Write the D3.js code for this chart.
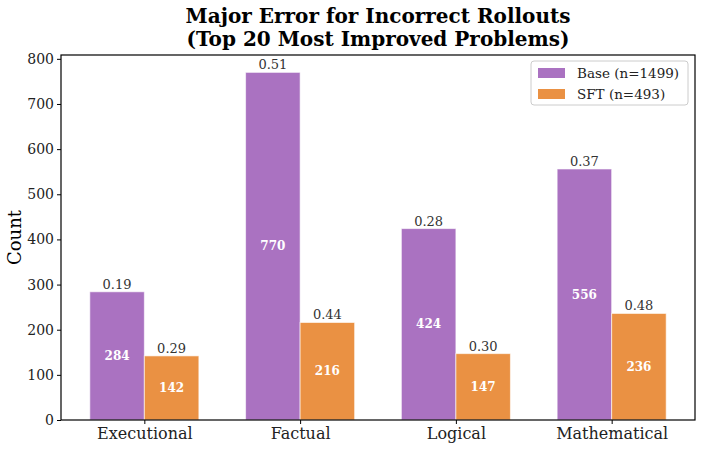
<!DOCTYPE html>
<html>
<head>
<meta charset="utf-8">
<script src="https://cdn.jsdelivr.net/npm/d3@7"></script>
<style>
  body { margin: 0; background: #fff; }
  svg text { font-family: "DejaVu Serif", serif; }
</style>
</head>
<body>
<svg id="chart" width="702" height="450"></svg>
<script>
// Data
const categories = ['Executional', 'Factual', 'Logical', 'Mathematical'];
const baseCounts = [284, 770, 424, 556];
const sftCounts = [142, 216, 147, 236];
const baseRates = ['0.19', '0.51', '0.28', '0.37'];
const sftRates = ['0.29', '0.44', '0.30', '0.48'];
const seriesNames = ['Base (n=1499)', 'SFT (n=493)'];
const yTicks = [0, 100, 200, 300, 400, 500, 600, 700, 800];

const COLORS = ['#aa72c1', '#ea9143'];
const M = { left: 61, right: 695, top: 55, bottom: 420 };
const BAR = 0.35;

const svg = d3.select('#chart');

// Scales (matplotlib-like limits with 5% margins)
const x = d3.scaleLinear([-0.535, 3.535], [M.left, M.right]);
const y = d3.scaleLinear([0, 808.5], [M.bottom, M.top]);

// Title
const title = svg.append('text')
  .attr('x', (M.left + M.right) / 2)
  .attr('text-anchor', 'middle')
  .style('font-size', '20px')
  .style('font-weight', 'bold');
title.append('tspan').attr('x', (M.left + M.right) / 2).attr('y', 23)
  .text('Major Error for Incorrect Rollouts');
title.append('tspan').attr('x', (M.left + M.right) / 2).attr('y', 46)
  .text('(Top 20 Most Improved Problems)');

// Bars
const series = [
  { counts: baseCounts, rates: baseRates, offset: -BAR / 2 },
  { counts: sftCounts, rates: sftRates, offset: BAR / 2 },
];

series.forEach((s, si) => {
  const g = svg.append('g');
  const data = s.counts.map((c, i) => ({ i, c, r: s.rates[i] }));

  g.selectAll('rect')
    .data(data)
    .enter()
    .append('rect')
    .attr('x', (d) => x(d.i + s.offset - BAR / 2))
    .attr('width', (d) => x(d.i + s.offset + BAR / 2) - x(d.i + s.offset - BAR / 2))
    .attr('y', (d) => y(d.c))
    .attr('height', (d) => y(0) - y(d.c))
    .attr('fill', COLORS[si])
    .attr('stroke', '#fff')
    .attr('stroke-opacity', 0.6)
    .attr('stroke-width', 1);

  // rate labels above bars
  g.selectAll('text.rate')
    .data(data)
    .enter()
    .append('text')
    .attr('class', 'rate')
    .attr('x', (d) => x(d.i + s.offset))
    .attr('y', (d) => y(d.c) - 3)
    .attr('text-anchor', 'middle')
    .style('font-size', '13px')
    .attr('fill', '#333')
    .text((d) => d.r);

  // count labels inside bars
  g.selectAll('text.count')
    .data(data)
    .enter()
    .append('text')
    .attr('class', 'count')
    .attr('x', (d) => x(d.i + s.offset))
    .attr('y', (d) => y(d.c / 2))
    .attr('dy', '0.35em')
    .attr('text-anchor', 'middle')
    .style('font-size', '12px')
    .style('font-weight', 'bold')
    .attr('fill', '#fff')
    .text((d) => d.c);
});

// Axes
const xAxis = d3.axisBottom(x)
  .tickValues(d3.range(categories.length))
  .tickFormat((d) => categories[d])
  .tickSize(4)
  .tickPadding(4);
const gx = svg.append('g')
  .attr('transform', `translate(0, ${M.bottom})`)
  .call(xAxis);
gx.select('.domain').remove();
gx.selectAll('text').style('font-size', '16px').attr('fill', '#222');

const yAxis = d3.axisLeft(y).tickValues(yTicks).tickSize(4).tickPadding(3);
const gy = svg.append('g')
  .attr('transform', `translate(${M.left}, 0)`)
  .call(yAxis);
gy.select('.domain').remove();
gy.selectAll('text').style('font-size', '14px').attr('fill', '#222');

// Frame
svg.append('rect')
  .attr('x', M.left)
  .attr('y', M.top)
  .attr('width', M.right - M.left)
  .attr('height', M.bottom - M.top)
  .attr('fill', 'none')
  .attr('stroke', '#000')
  .attr('stroke-width', 1.2);

// Y label
svg.append('text')
  .attr('transform', `translate(21, ${(M.top + M.bottom) / 2}) rotate(-90)`)
  .attr('text-anchor', 'middle')
  .style('font-size', '18px')
  .text('Count');

// Legend
const lg = svg.append('g').attr('transform', 'translate(531, 61)');
lg.append('rect')
  .attr('width', 157)
  .attr('height', 44)
  .attr('rx', 3)
  .attr('fill', '#fff')
  .attr('fill-opacity', 0.8)
  .attr('stroke', '#ccc');
seriesNames.forEach((name, i) => {
  lg.append('rect')
    .attr('x', 7)
    .attr('y', 7 + i * 21)
    .attr('width', 27)
    .attr('height', 10)
    .attr('fill', COLORS[i]);
  lg.append('text')
    .attr('x', 46)
    .attr('y', 12 + i * 21)
    .attr('dy', '0.35em')
    .style('font-size', '13.5px')
    .attr('fill', '#222')
    .text(name);
});
</script>
</body>
</html>
